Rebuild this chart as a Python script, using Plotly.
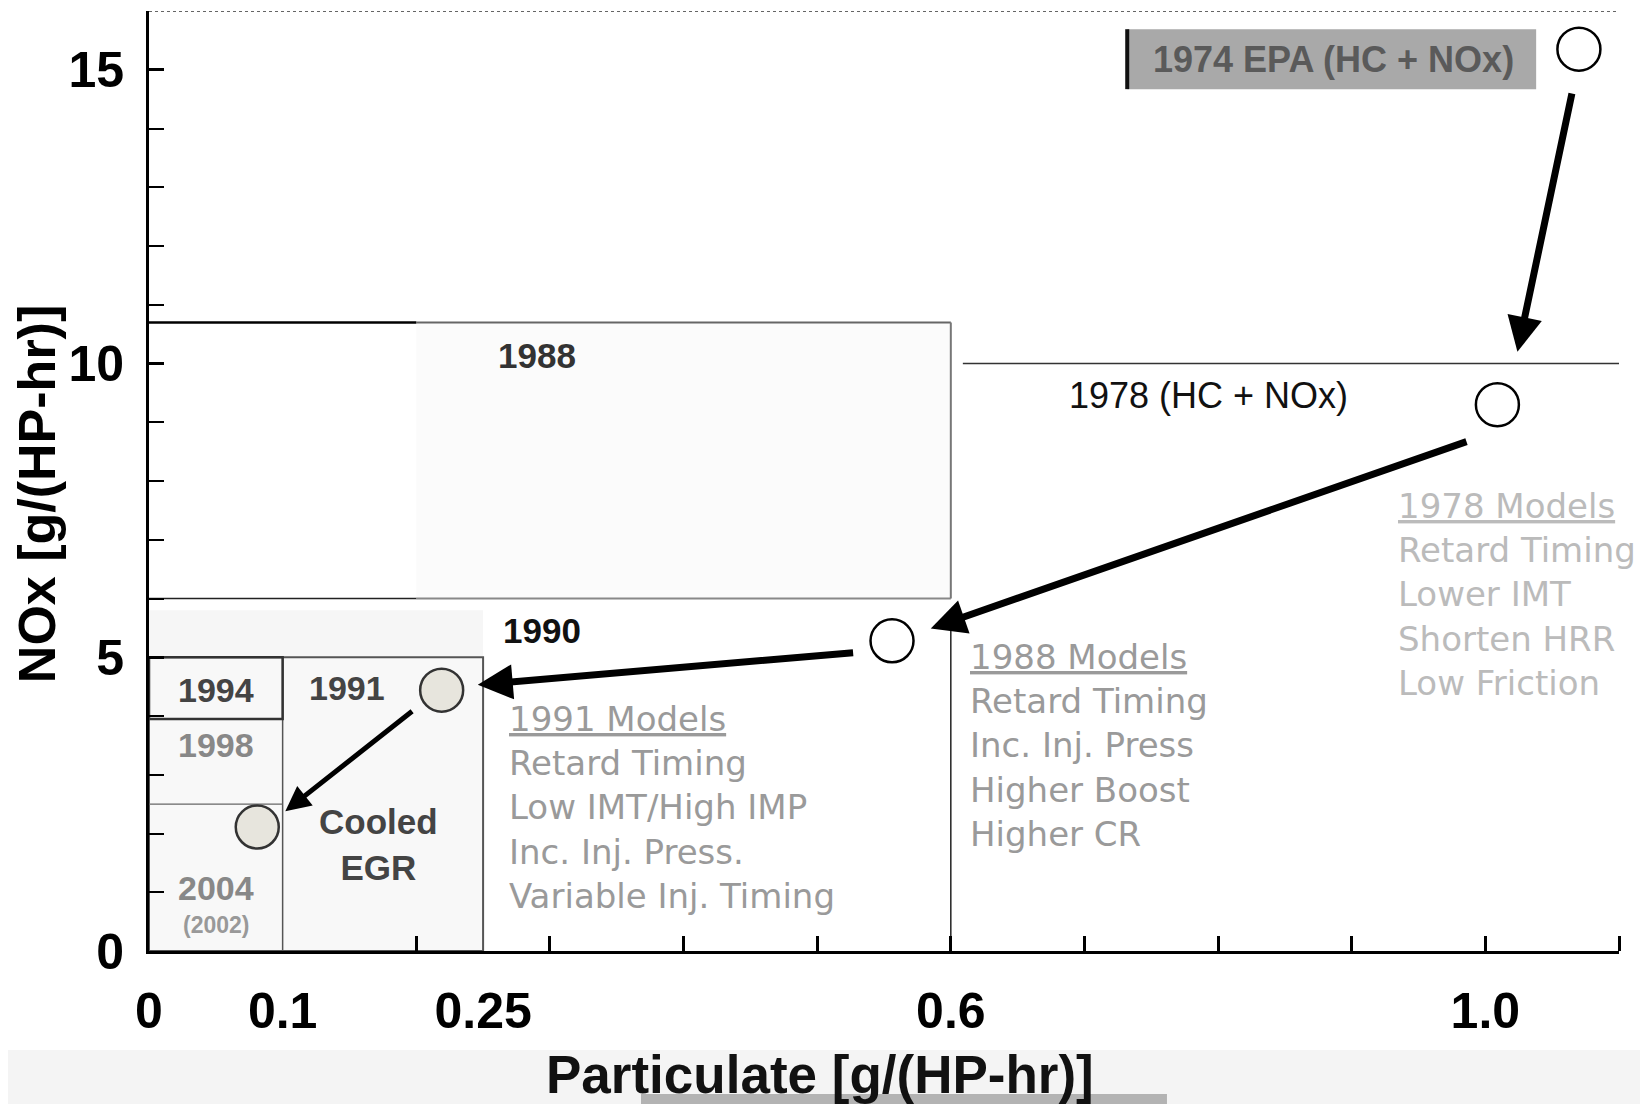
import plotly.graph_objects as go

# ---------------- data ----------------
STANDARD_LABELS = ["1974", "1978", "1988", "1991", "2004"]
PARTICULATE = [1.07, 1.009, 0.556, 0.219, 0.081]
NOX = [15.35, 9.30, 5.28, 4.44, 2.11]
OPEN_MARKER = [True, True, True, False, False]

X_TICK_VALS = [0, 0.1, 0.25, 0.6, 1.0]
X_TICK_TEXT = ["0", "0.1", "0.25", "0.6", "1.0"]
X_MINOR_TICKS = [0.2, 0.3, 0.4, 0.5, 0.6, 0.7, 0.8, 0.9, 1.0, 1.1]
Y_TICK_VALS = [0, 5, 10, 15]
Y_TICK_TEXT = ["0", "5", "10", "15"]
Y_MINOR_TICKS = [1, 2, 3, 4, 6, 7, 8, 9, 11, 12, 13, 14]

# regulatory limit regions: [pm0, pm1, nox0, nox1]
REGION_1988 = [0.2, 0.6, 6.0, 10.7]
REGION_1991 = [0.0, 0.25, 0.0, 5.0]
REGION_1994 = [0.0, 0.1, 3.95, 5.0]
REGION_1974_LABEL = [0.732, 1.038, 14.67, 15.69]
LIMIT_1978_NOX = 10.0
LIMIT_1978_PM_START = 0.609
LIMIT_1990_NOX = 6.0
LIMIT_1990_PM = 0.6
LIMIT_1990_PM_TOP = 5.5
LIMIT_2004_NOX = 2.5
LIMIT_1994_PM = 0.1

ARROW_TAIL_PM = [1.065, 0.987, 0.528, 0.198]
ARROW_TAIL_NOX = [14.62, 8.68, 5.08, 4.10]
ARROW_HEAD_PM = [1.024, 0.585, 0.246, 0.102]
ARROW_HEAD_NOX = [10.20, 5.49, 4.53, 2.38]
ARROW_WIDTH = [7, 7, 7, 5]

MODELS_1978 = ["1978 Models", "Retard Timing", "Lower IMT", "Shorten HRR", "Low Friction"]
MODELS_1988 = ["1988 Models", "Retard Timing", "Inc. Inj. Press", "Higher Boost", "Higher CR"]
MODELS_1991 = ["1991 Models", "Retard Timing", "Low IMT/High IMP", "Inc. Inj. Press.", "Variable Inj. Timing"]

X_RANGE = [0, 1.1]
Y_RANGE = [0, 16]

# ---------------- figure ----------------
SANS = "Liberation Sans, Arial, sans-serif"
WIDE = "DejaVu Sans, Verdana, sans-serif"

fig = go.Figure()

fig.add_trace(go.Scatter(
    x=PARTICULATE, y=NOX, mode="markers", text=STANDARD_LABELS,
    marker=dict(size=43,
                color=["white" if o else "#e7e5dd" for o in OPEN_MARKER],
                line=dict(color=["black" if o else "#333333" for o in OPEN_MARKER], width=2.5)),
    showlegend=False, hoverinfo="text+x+y"))

shapes = []


def rect(r, fill, line_color, lw, layer="below"):
    shapes.append(dict(type="rect", xref="x", yref="y", x0=r[0], x1=r[1], y0=r[2], y1=r[3],
                       fillcolor=fill, line=dict(color=line_color, width=lw), layer=layer))


def seg(x0, x1, y0, y1, color, lw, dash="solid"):
    shapes.append(dict(type="line", xref="x", yref="y", x0=x0, x1=x1, y0=y0, y1=y1,
                       line=dict(color=color, width=lw, dash=dash), layer="below"))


NOLINE = "rgba(0,0,0,0)"

# light background of 1990/1991 area
rect([REGION_1991[0], REGION_1991[1], 0, 5.8], "#f6f6f6", NOLINE, 0)
# 1988 box (no left edge)
rect(REGION_1988, "#fbfbfb", NOLINE, 0)
seg(REGION_1988[0], REGION_1988[1], REGION_1988[3], REGION_1988[3], "#666666", 2)
seg(REGION_1988[0], REGION_1988[1], REGION_1988[2], REGION_1988[2], "#888888", 2)
seg(REGION_1988[1], REGION_1988[1], REGION_1988[2], REGION_1988[3], "#777777", 2)
seg(0, REGION_1988[0], REGION_1988[3], REGION_1988[3], "black", 2.5)
seg(0, REGION_1988[0], LIMIT_1990_NOX, LIMIT_1990_NOX, "#222222", 1.5)
# 1978 limit line
seg(LIMIT_1978_PM_START, X_RANGE[1], LIMIT_1978_NOX, LIMIT_1978_NOX, "#333333", 1.5)
# 1990 vertical at 0.6
seg(LIMIT_1990_PM, LIMIT_1990_PM, 0, LIMIT_1990_PM_TOP, "#222222", 1.5)
# 1991 box
rect(REGION_1991, "#f8f8f8", "#555555", 2)
# 1994 vertical & 2004 line
seg(LIMIT_1994_PM, LIMIT_1994_PM, 0, REGION_1991[3], "#555555", 1.5)
seg(0, LIMIT_1994_PM, LIMIT_2004_NOX, LIMIT_2004_NOX, "#666666", 1.2)
# 1994 box
rect(REGION_1994, NOLINE, "#333333", 2.5)
# 1974 label box
rect(REGION_1974_LABEL, "#a9a9a9", NOLINE, 0)
seg(REGION_1974_LABEL[0], REGION_1974_LABEL[0], REGION_1974_LABEL[2], REGION_1974_LABEL[3], "#111111", 4)
# top border (dotted)
seg(X_RANGE[0], X_RANGE[1], Y_RANGE[1], Y_RANGE[1], "#333333", 1.5, "dot")

# page bottom band (scan artefact)
shapes.append(dict(type="rect", xref="paper", yref="paper", x0=-0.11, x1=1.03, y0=-0.1053, y1=-0.17,
                   fillcolor="#f4f4f4", line=dict(width=0), layer="below"))
shapes.append(dict(type="rect", xref="paper", yref="paper", x0=0.3347, x1=0.6925, y0=-0.152, y1=-0.17,
                   fillcolor="#b3b3b3", line=dict(width=0), layer="below"))

annotations = []

# arrows
for tx, ty, hx, hy, w in zip(ARROW_TAIL_PM, ARROW_TAIL_NOX, ARROW_HEAD_PM, ARROW_HEAD_NOX, ARROW_WIDTH):
    annotations.append(dict(x=hx, y=hy, ax=tx, ay=ty, xref="x", yref="y", axref="x", ayref="y",
                            text="", showarrow=True, arrowhead=2, arrowsize=1.0, arrowwidth=w,
                            arrowcolor="black", standoff=0, startstandoff=0))


def label(text, x, y, size, color, bold=False, family=SANS, xanchor="center", yanchor="middle", align="center"):
    annotations.append(dict(text=text, x=x, y=y, xref="x", yref="y", showarrow=False,
                            xanchor=xanchor, yanchor=yanchor, align=align,
                            font=dict(family=family, size=size, color=color,
                                      weight="bold" if bold else "normal")))


label("1974 EPA (HC + NOx)", 0.886, 15.17, 36, "#5a5a5a", bold=True)
label("1978 (HC + NOx)", 0.793, 9.45, 36, "#111111")
label("1988", 0.290, 10.14, 35, "#333333", bold=True)
label("1990", 0.294, 5.46, 35, "#111111", bold=True)
label("1994", 0.050, 4.45, 34, "#444444", bold=True)
label("1991", 0.148, 4.47, 34, "#444444", bold=True)
label("1998", 0.050, 3.51, 34, "#888888", bold=True)
label("2004", 0.050, 1.07, 34, "#888888", bold=True)
label("(2002)", 0.050, 0.45, 23, "#999999", bold=True)
label("Cooled<br>EGR", 0.172, 1.81, 35, "#444444", bold=True)


def models(lines):
    return "<u>" + lines[0] + "</u><br>" + "<br>".join(lines[1:])


label(models(MODELS_1991), 0.268, 2.44, 34, "#9a9a9a", family=WIDE, xanchor="left", align="left")
label(models(MODELS_1988), 0.613, 3.49, 34, "#9a9a9a", family=WIDE, xanchor="left", align="left")
label(models(MODELS_1978), 0.933, 6.06, 34, "#bbbbbb", family=WIDE, xanchor="left", align="left")

# axis titles
annotations.append(dict(text="NOx [g/(HP-hr)]", xref="paper", yref="paper", x=-0.0762, y=0.486,
                        textangle=-90, showarrow=False, xanchor="center", yanchor="middle",
                        font=dict(family=SANS, size=52, color="black", weight="bold")))
annotations.append(dict(text="Particulate [g/(HP-hr)]", xref="paper", yref="paper", x=0.4565, y=-0.1309,
                        showarrow=False, xanchor="center", yanchor="middle",
                        font=dict(family=SANS, size=53, color="#111111", weight="bold")))

tickfont = dict(family=SANS, size=50, color="black", weight="bold")

fig.update_layout(
    width=1640, height=1096,
    margin=dict(l=141, r=29, t=3, b=153),
    paper_bgcolor="white", plot_bgcolor="white",
    shapes=shapes, annotations=annotations,
    xaxis=dict(range=X_RANGE, showgrid=False, zeroline=False, showline=True, linecolor="black",
               linewidth=3, tickmode="array", tickvals=X_TICK_VALS, ticktext=X_TICK_TEXT,
               ticks="", tickfont=tickfont, ticklabelstandoff=14,
               minor=dict(tickmode="array", tickvals=X_MINOR_TICKS, ticks="inside", ticklen=15,
                          tickwidth=2.5, tickcolor="black", showgrid=False)),
    yaxis=dict(range=Y_RANGE, showgrid=False, zeroline=False, showline=True, linecolor="black",
               linewidth=3, tickmode="array", tickvals=Y_TICK_VALS, ticktext=Y_TICK_TEXT,
               ticks="inside", ticklen=15, tickwidth=2.5, tickcolor="black",
               tickfont=tickfont, ticklabelstandoff=12,
               minor=dict(tickmode="array", tickvals=Y_MINOR_TICKS, ticks="inside", ticklen=15,
                          tickwidth=2, tickcolor="black", showgrid=False)),
)

fig.write_html("out.html")
